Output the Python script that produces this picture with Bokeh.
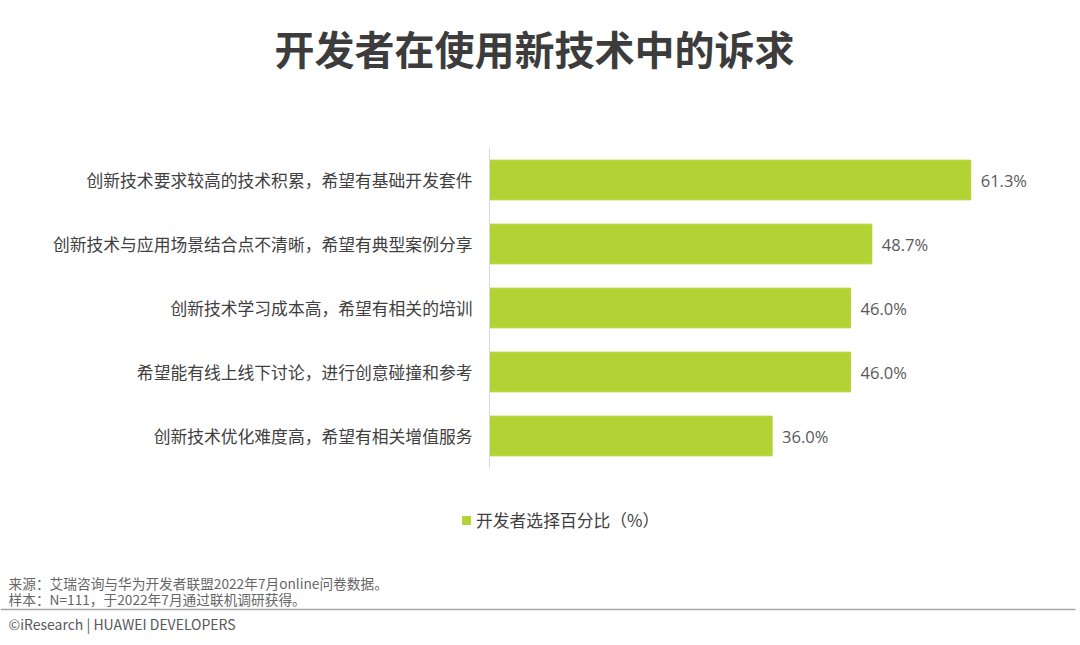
from bokeh.plotting import figure
from bokeh.models import ColumnDataSource, Range1d, Label, Legend
from bokeh.core.properties import value
from bokeh.embed import file_html
from bokeh.resources import INLINE

# ---------------- data ----------------
categories = [
    "创新技术要求较高的技术积累，希望有基础开发套件",
    "创新技术与应用场景结合点不清晰，希望有典型案例分享",
    "创新技术学习成本高，希望有相关的培训",
    "希望能有线上线下讨论，进行创意碰撞和参考",
    "创新技术优化难度高，希望有相关增值服务",
]
values = [61.3, 48.7, 46.0, 46.0, 36.0]
value_labels = ["61.3%", "48.7%", "46.0%", "46.0%", "36.0%"]
series_name = "开发者选择百分比（%）"
title_text = "开发者在使用新技术中的诉求"
source_line = "来源：艾瑞咨询与华为开发者联盟2022年7月online问卷数据。"
sample_line = "样本：N=111，于2022年7月通过联机调研获得。"
brand_line = "©iResearch | HUAWEI DEVELOPERS"

# ---------------- layout constants ----------------
W, H = 1080, 645
X0 = 489          # page px of value 0
XS = 7.85         # px per percent
Y0 = 179.5        # page px of first category centre
YS = 64.0         # px per category
CJK = "Noto Sans CJK SC"
TXT = "#404040"
GREEN = "#b3d234"


def dx(px):
    return (px - X0) / XS


def dy(py):
    return (py - Y0) / YS


idx = list(range(len(categories)))
src = ColumnDataSource(dict(idx=idx, cat=categories, val=values, lab=value_labels,
                            zero=[0] * len(idx)))

p = figure(width=W, height=H, output_backend="svg", toolbar_location=None,
           x_range=Range1d(dx(0), dx(W)), y_range=Range1d(dy(H), dy(0)),
           x_axis_location=None, y_axis_location=None,
           min_border=0)
p.outline_line_color = None
p.xgrid.visible = False
p.ygrid.visible = False
p.background_fill_color = "white"
p.border_fill_color = "white"

r = p.hbar(y="idx", right="val", left=0, height=0.62, source=src,
           fill_color=GREEN, line_color=GREEN)

# category axis line
p.segment(x0=0, x1=0, y0=-0.5, y1=len(idx) - 0.5, line_color="#d9d9d9", line_width=1)

# category labels
p.text(x="zero", y="idx", text="cat", source=src, x_offset=-17,
       text_align="right", text_baseline="middle", text_font=value(CJK),
       text_font_size="16.8px", text_color=TXT)

# value labels
p.text(x="val", y="idx", text="lab", source=src, x_offset=10,
       text_align="left", text_baseline="middle", text_font=value("Open Sans"),
       text_font_size="16.5px", text_color="#595959")

# legend
legend = Legend(items=[(series_name, [r])], location=(461, H - 532),
                orientation="horizontal", padding=0, margin=0, spacing=0,
                glyph_width=10, glyph_height=10, label_standoff=5, label_height=18,
                label_text_font=CJK, label_text_font_size="16.8px",
                label_text_color=TXT, border_line_color=None,
                background_fill_alpha=0)
p.add_layout(legend, "center")


def lab(text, px, py, size, color, align="left", weight="normal", font=CJK):
    p.add_layout(Label(x=dx(px), y=dy(py), text=text, text_align=align,
                       text_baseline="middle", text_font=font, text_font_size=size,
                       text_color=color, text_font_style=weight))


lab(title_text, 534, 47, "40px", "#3c3c3c", align="center", weight="bold")
lab(source_line, 8, 582, "13.7px", "#666666")
lab(sample_line, 8, 598, "13.7px", "#666666")
lab(brand_line, 8, 623, "14px", "#595959")

# footer rule
p.segment(x0=dx(0), x1=dx(1075), y0=dy(609), y1=dy(609), line_color="#a6a6a6",
          line_width=1.5)

open("out.html", "w").write(file_html(p, INLINE))
